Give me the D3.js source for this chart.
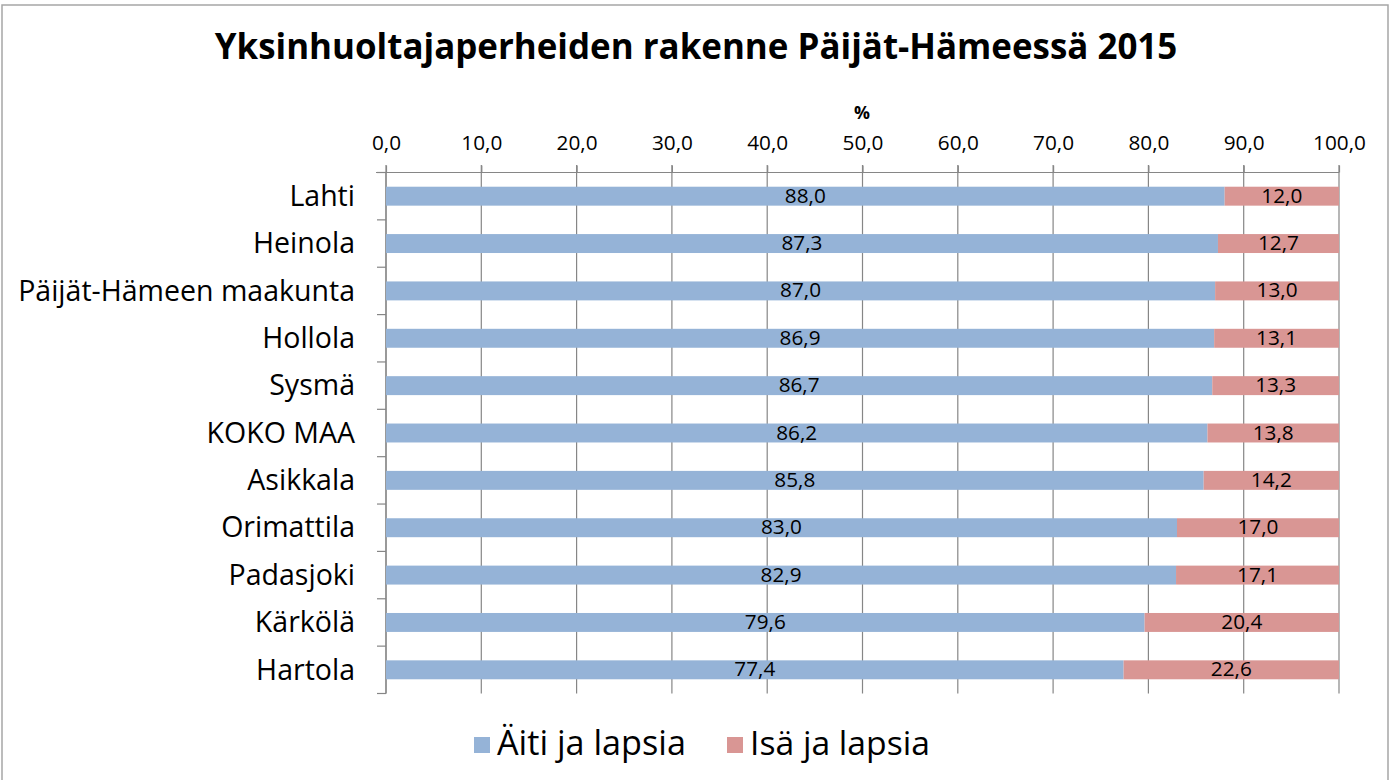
<!DOCTYPE html>
<html><head><meta charset="utf-8">
<script src="https://cdn.jsdelivr.net/npm/d3@7"></script>
<style>html,body{margin:0;padding:0;background:#fff}svg{display:block}</style>
</head><body>
<svg id="c" width="1391" height="780"></svg>
<script>
const categories = ["Lahti","Heinola","Päijät-Hämeen maakunta","Hollola","Sysmä","KOKO MAA","Asikkala","Orimattila","Padasjoki","Kärkölä","Hartola"];
const aiti = [88.0,87.3,87.0,86.9,86.7,86.2,85.8,83.0,82.9,79.6,77.4];
const isa = [12.0,12.7,13.0,13.1,13.3,13.8,14.2,17.0,17.1,20.4,22.6];
const seriesNames = ["Äiti ja lapsia","Isä ja lapsia"];
const xTicks = [0,10,20,30,40,50,60,70,80,90,100];
const title = "Yksinhuoltajaperheiden rakenne Päijät-Hämeessä 2015";
const colors = ["#95B3D7","#D99694"];
const font = "'Open Sans', sans-serif";
const fmt = v => d3.format(".1f")(v).replace(".",",");

const svg = d3.select("#c");
svg.append("rect").attr("x",2).attr("y",5).attr("width",1386).attr("height",790)
  .attr("fill","#fff").attr("stroke","#a6a6a6").attr("stroke-width",1.5);

function sizeFor(str, base, target, weight){
  const t = svg.append("text").attr("font-family",font).attr("font-size",base).attr("font-weight",weight||"normal").text(str);
  const w = t.node().getComputedTextLength();
  t.remove();
  return base*target/w;
}
function fit(sel, target){
  const w = sel.node().getComputedTextLength();
  const fs = parseFloat(sel.attr("font-size"));
  sel.attr("font-size", fs*target/w);
  return sel;
}

const x = d3.scaleLinear().domain([0,100]).range([386,1339]);
const y = d3.scaleBand().domain(categories).range([172.5,693.5]).paddingInner(0.6).paddingOuter(0.3);
const step = y.step();

fit(svg.append("text").attr("x",696).attr("y",59).attr("text-anchor","middle")
  .attr("font-family",font).attr("font-weight","bold").attr("font-size",30).attr("fill","#000").text(title), 963);

fit(svg.append("text").attr("x",862).attr("y",119).attr("text-anchor","middle")
  .attr("font-family",font).attr("font-weight","bold").attr("font-size",15).text("%"), 16);

// grid lines
const g = svg.append("g");
g.selectAll("line.grid").data(xTicks).join("line")
  .attr("x1",d=>x(d)).attr("x2",d=>x(d)).attr("y1",165).attr("y2",693.5)
  .attr("stroke","#868686").attr("stroke-width",1.2);
// top axis
const tickFs = sizeFor("50,0",17,41);
const xa = svg.append("g").attr("transform","translate(0,172.5)")
  .call(d3.axisTop(x).tickValues(xTicks).tickSize(7).tickPadding(3).tickFormat(fmt));
xa.select(".domain").attr("stroke","#868686").attr("stroke-width",1.2).attr("d","M376,0H1339");
xa.selectAll(".tick line").attr("stroke","#868686").attr("stroke-width",1.2);
xa.selectAll(".tick text").attr("font-family",font).attr("font-size",tickFs).attr("fill","#000").attr("y",-22.5).attr("dy",0);
// category axis
const ya = svg.append("g").attr("transform","translate(386,0)")
  .call(d3.axisLeft(y).tickSize(0).tickPadding(31));
ya.select(".domain").attr("stroke","#868686").attr("stroke-width",1.2).attr("d","M0,172.5V693.5");
const catFs = sizeFor("Päijät-Hämeen maakunta",22,337);
ya.selectAll(".tick text").attr("font-family",font).attr("font-size",catFs).attr("fill","#000").attr("dy","0.34em");
const bounds = d3.range(categories.length+1).map(i=>172.5+i*step);
ya.selectAll("line.b").data(bounds).join("line").attr("x1",-9).attr("x2",0).attr("y1",d=>d).attr("y2",d=>d)
  .attr("stroke","#868686").attr("stroke-width",1.2);

const stack = categories.map((c,i)=>({c, segs:[{s:0,e:aiti[i],v:aiti[i],k:0},{s:aiti[i],e:aiti[i]+isa[i],v:isa[i],k:1}]}));
const bars = svg.append("g");
stack.forEach(row=>{
  row.segs.forEach(sg=>{
    bars.append("rect").attr("x",x(sg.s)).attr("width",x(sg.e)-x(sg.s))
      .attr("y",y(row.c)).attr("height",y.bandwidth()).attr("fill",colors[sg.k]);
  });
});
const lblFs = sizeFor("88,0",16,41);
stack.forEach(row=>{
  row.segs.forEach(sg=>{
    bars.append("text").attr("x",x((sg.s+sg.e)/2)).attr("y",y(row.c)+y.bandwidth()/2+6.5)
      .attr("text-anchor","middle").attr("font-family",font).attr("font-size",lblFs).attr("fill","#000")
      .text(fmt(sg.v));
  });
});

// legend
const leg = svg.append("g");
const lx = [474,727], tx=[497,750], tw=[189,180];
seriesNames.forEach((n,i)=>{
  leg.append("rect").attr("x",lx[i]).attr("y",737).attr("width",16).attr("height",16).attr("fill",colors[i]);
  fit(leg.append("text").attr("x",tx[i]).attr("y",755).attr("font-family",font).attr("font-size",26).attr("fill","#000").text(n), tw[i]);
});
</script>
</body></html>
